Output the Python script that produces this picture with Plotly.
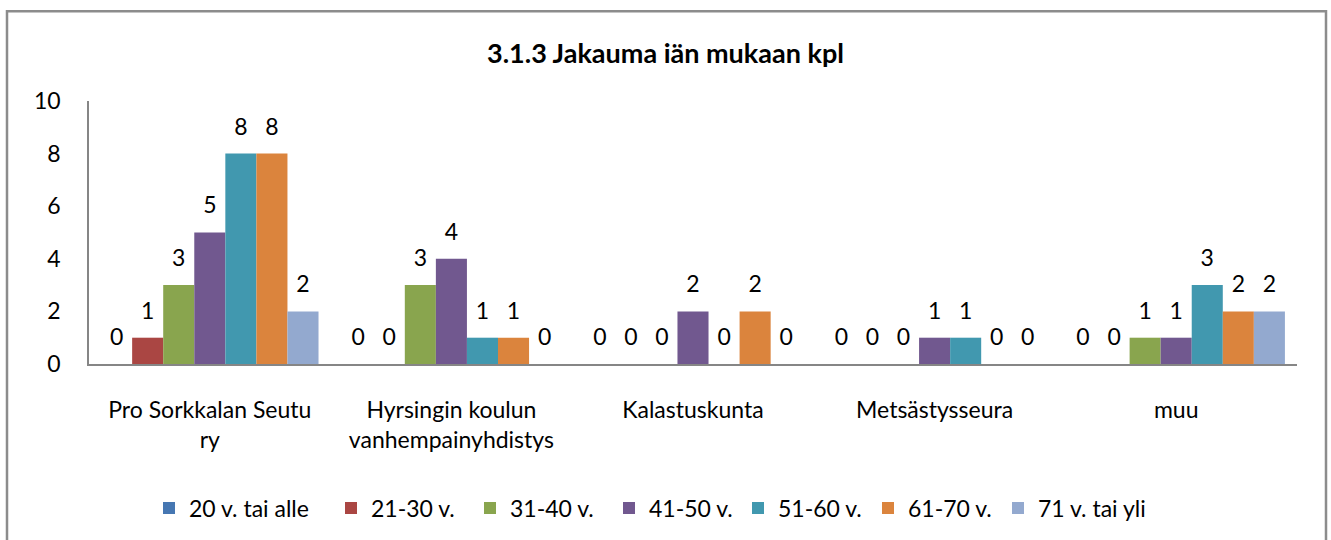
import plotly.graph_objects as go

categories = ["Pro Sorkkalan Seutu<br>ry", "Hyrsingin koulun<br>vanhempainyhdistys",
              "Kalastuskunta", "Metsästysseura", "muu"]
series_names = ["20 v. tai alle", "21-30 v.", "31-40 v.", "41-50 v.",
                "51-60 v.", "61-70 v.", "71 v. tai yli"]
values = [
    [0, 0, 0, 0, 0],
    [1, 0, 0, 0, 0],
    [3, 3, 0, 0, 1],
    [5, 4, 2, 1, 1],
    [8, 1, 0, 1, 3],
    [8, 1, 2, 0, 2],
    [2, 0, 0, 0, 2],
]
colors = ["#4677B2", "#AA4643", "#89A54E", "#71588F", "#4198AF", "#DB843D", "#93A9CF"]
y_ticks = [0, 2, 4, 6, 8, 10]

FONT = "Lato, Calibri, sans-serif"
FS = 23
LABEL_GAP = 0.42  # extra space (in axis units) between bar top and its value label

W, H = 1331, 540
L, R, T, B = 89, 34, 101, 175
pw, ph = W - L - R, H - T - B

def px(x):
    return (x - L) / pw

def py(y):
    return (H - B - y) / ph

# legend symbol centres (pixels) as in the reference
legend_centres = [172, 354, 493, 632, 761, 891, 1021]

fig = go.Figure()
for i, (name, vals, col) in enumerate(zip(series_names, values, colors)):
    lg = "legend" if i == 0 else f"legend{i + 1}"
    fig.add_trace(go.Bar(
        x=categories, y=vals, name=name, marker_color=col,
        marker_line_width=0, offsetgroup=str(i), legend=lg,
        hoverinfo="x+y+name",
    ))
    fig.add_trace(go.Bar(
        x=categories, y=[LABEL_GAP] * len(vals), base=vals, name=name,
        marker_color="rgba(0,0,0,0)", marker_line_width=0, offsetgroup=str(i),
        showlegend=False, hoverinfo="skip",
        text=[str(v) for v in vals], textposition="outside",
        textfont=dict(size=FS, color="#000000", family=FONT),
        cliponaxis=False,
    ))

legends = {}
for i, c in enumerate(legend_centres):
    key = "legend" if i == 0 else f"legend{i + 1}"
    legends[key] = dict(orientation="h", x=px(c - 23), xanchor="left",
                        y=py(508), yanchor="middle",
                        font=dict(size=FS, family=FONT, color="#000000"),
                        itemwidth=30, bgcolor="rgba(0,0,0,0)")

fig.update_layout(
    width=W, height=H,
    margin=dict(l=L, r=R, t=T, b=B),
    barmode="group", bargap=0.1, bargroupgap=0,
    paper_bgcolor="white", plot_bgcolor="white",
    font=dict(family=FONT, size=FS, color="#000000"),
    title=dict(text="<b>3.1.3 Jakauma iän mukaan kpl</b>", x=0.5, xanchor="center",
               y=1 - 54 / H, yanchor="middle", font=dict(size=27, family=FONT)),
    showlegend=True,
    xaxis=dict(showline=True, linecolor="#868686", linewidth=1.5, ticks="",
               showgrid=False, tickfont=dict(size=FS), ticklabelstandoff=25),
    yaxis=dict(range=[0, 10], tickvals=y_ticks, showline=True, linecolor="#868686",
               linewidth=1.5, ticks="", showgrid=False, zeroline=False,
               tickfont=dict(size=FS), ticklabelstandoff=22),
    shapes=[dict(type="rect", xref="paper", yref="paper",
                 x0=px(7), x1=px(1326), y0=py(546), y1=py(11),
                 line=dict(color="#8C8C8C", width=2.5), fillcolor="rgba(0,0,0,0)",
                 layer="below")],
    **legends,
)

fig.write_html("out.html", post_script="document.body.style.margin='0';",
               config={"displayModeBar": False})
